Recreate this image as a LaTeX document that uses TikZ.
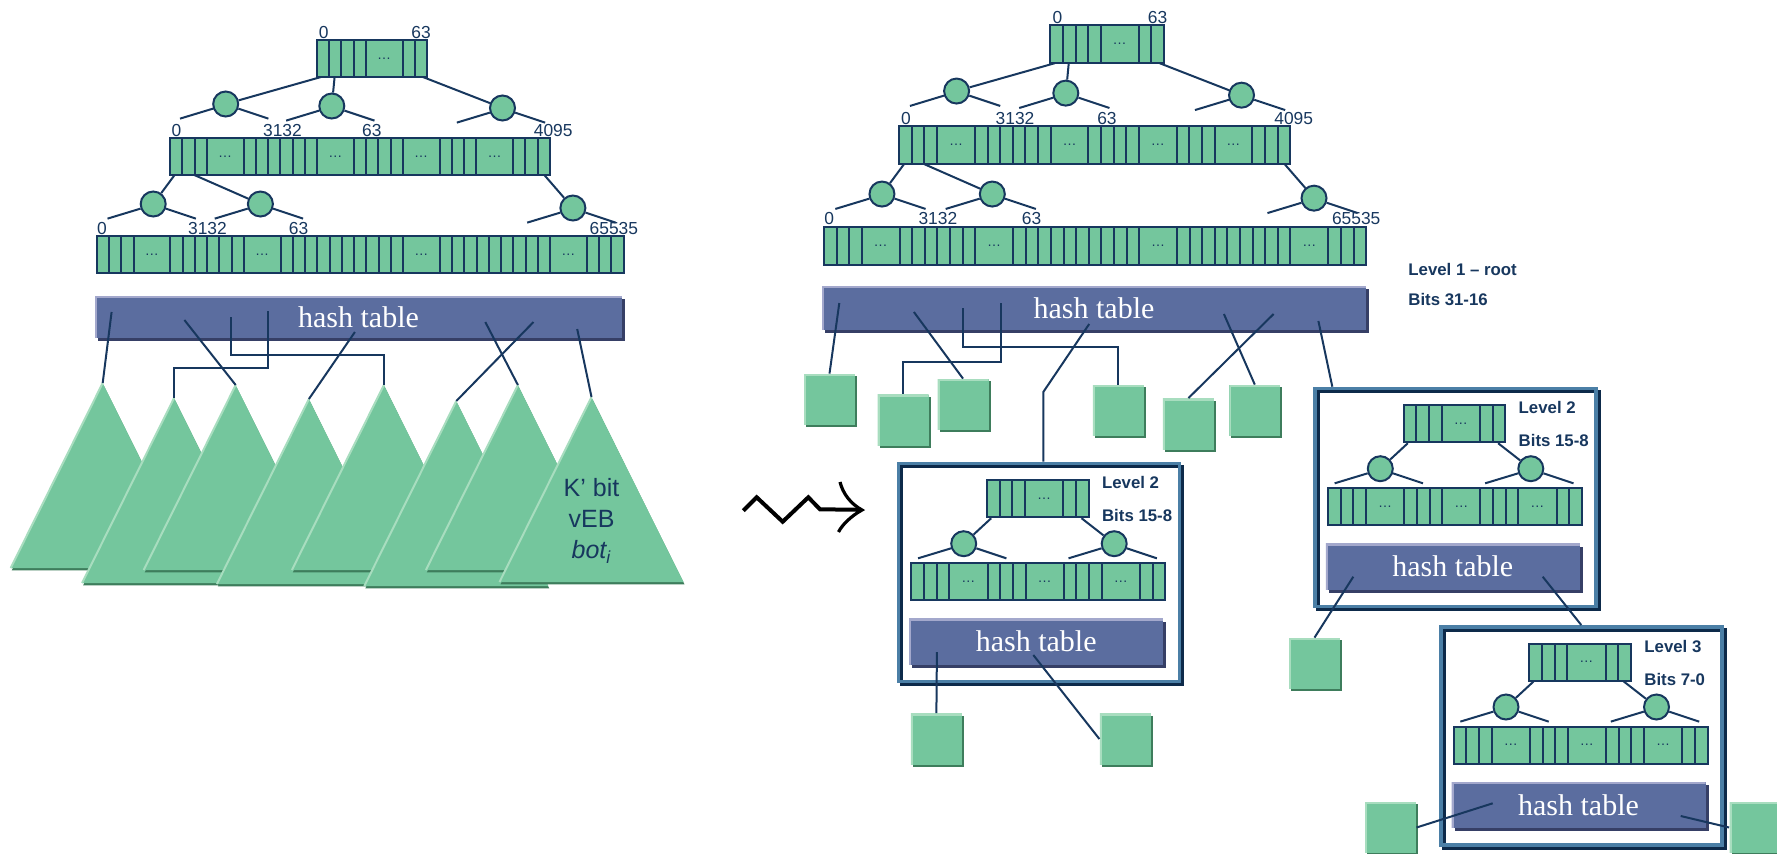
\documentclass[tikz,border=0pt]{standalone}
\usepackage{fontspec}
\setmainfont{Liberation Serif}
\setsansfont{Liberation Sans}
\usetikzlibrary{shadows}
\definecolor{cellgreen}{HTML}{74C69D}
\definecolor{litegreen}{HTML}{A8DDBF}
\definecolor{darkgreen}{HTML}{3E7D5C}
\definecolor{ink}{HTML}{17375E}
\definecolor{hashblue}{HTML}{5B6D9F}
\definecolor{hashlite}{HTML}{A3A8CC}
\definecolor{hashdark}{HTML}{363F66}
\definecolor{framelite}{HTML}{4B7FA6}
\definecolor{framedark}{HTML}{0D2A4A}
\tikzset{
  cell/.style={draw=ink, fill=cellgreen, line width=1pt},
  dots/.style={font=\sffamily\fontsize{7}{7}\selectfont, text=ink, inner sep=0pt},
  num/.style={font=\sffamily\fontsize{8.7}{9}\selectfont, text=ink, inner sep=0pt, anchor=base},
  knot/.style={circle, draw=ink, fill=cellgreen, line width=1pt, minimum size=12.5pt, inner sep=0pt},
  link/.style={draw=ink, line width=1pt},
  hashbox/.style={fill=hashblue, text=white, font=\fontsize{15}{15}\selectfont, inner sep=0pt,
    drop shadow={shadow xshift=1.5pt, shadow yshift=-1.5pt, fill=hashdark, opacity=1},
    path picture={\draw[hashlite, line width=2pt] (path picture bounding box.south west) |- (path picture bounding box.north east);}},
  leaf/.style={fill=cellgreen, minimum width=25.5pt, minimum height=25.5pt, inner sep=0pt,
    drop shadow={shadow xshift=1pt, shadow yshift=-1pt, fill=darkgreen, opacity=1},
    path picture={\draw[litegreen, line width=2pt] (path picture bounding box.south west) |- (path picture bounding box.north east);}},
  frame/.style={draw=framelite, line width=1.75pt, inner sep=0pt,
    general shadow={draw=framedark, line width=1.75pt, shadow xshift=1.5pt, shadow yshift=-1.5pt}},
  lvl/.style={font=\sffamily\bfseries\fontsize{8.4}{9}\selectfont, text=ink, inner sep=0pt, anchor=base west},
  tri/.style={fill=cellgreen, drop shadow={shadow xshift=0.5pt, shadow yshift=-1.2pt, fill=darkgreen, opacity=1}},
  triedge/.style={draw=litegreen, line width=1pt},
  squiggle/.style={draw=black, line width=2pt},
}
\newcommand{\cellarray}[5]{%
  \xdef\cx{#2}%
  \foreach \w [count=\i] in {#5}{%
    \pgfmathsetmacro\nx{\cx+\w*#4}%
    \draw[cell] (\cx,#3) rectangle (\nx,#3+37);
    \ifnum\w>1 \node[dots] (#1-d\i) at ({(\cx+\nx)/2},#3+18.5) {\dots};\fi
    \xdef\cx{\nx}%
  }}
\newcommand{\bigtree}[1]{%
  \cellarray{#1-top}{220}{-196}{12.25}{1,1,1,1,3,1,1}
  \cellarray{#1-mid}{73.2}{-98}{12.25}{1,1,1,3,1,1,1,1,1,1,3,1,1,1,1,3,1,1,1,3,1,1,1}
  \cellarray{#1-bot}{0}{0}{12.25}{1,1,1,3,1,1,1,1,1,1,3,1,1,1,1,1,1,1,1,1,1,3,1,1,1,1,1,1,1,1,1,3,1,1,1}
  \foreach \k/\x/\y in {1/128.9/-132, 2/235/-130, 3/405.7/-128, 4/56.4/-32, 5/163.6/-32, 6/476.1/-28}
    \node[knot] (#1-c\k) at (\x,\y) {};
  \foreach \k/\x/\y in {1/224.2/-159, 2/237.8/-159, 3/326.1/-159, 4/77.8/-61, 5/97.5/-61, 6/447.5/-61}
    {\coordinate (#1-p\k) at (\x,\y); \draw[link] (#1-p\k) -- (#1-c\k);}
  \foreach \k in {1,...,6}
    {\draw[link] (#1-c\k.200) -- ++(-33,10); \draw[link] (#1-c\k.-20) -- ++(30,10);}
  \foreach \k/\x/\y/\lab in {1/226.8/-198/0, 2/324.2/-198/63, 3/79.6/-100/0, 4/185.7/-100/3132,
      5/275/-100/63, 6/456.4/-100/4095, 7/5.2/-2/0, 8/110.7/-2/3132, 9/201.8/-2/63, 10/517.1/-2/65535}
    \node[num] (#1-n\k) at (\x,\y) {\lab};
}
\newcommand{\levelbox}[5]{%
  \node[frame, minimum width=140.5pt, minimum height=109pt, anchor=north west] (#1) at (#2,#3) {};
  \begin{scope}[shift={(#2,#3)}]
    \cellarray{#1-top}{90.3}{18.5}{12.7}{1,1,1,3,1,1}
    \cellarray{#1-bot}{14.6}{101.5}{12.7}{1,1,1,3,1,1,1,3,1,1,1,3,1,1}
    \node[knot] (#1-c1) at (67,82) {};
    \node[knot] (#1-c2) at (217.5,82) {};
    \coordinate (#1-p1) at (94.5,56.5);
    \coordinate (#1-p2) at (184.8,56.5);
    \draw[link] (#1-p1) -- (#1-c1);
    \draw[link] (#1-p2) -- (#1-c2);
    \foreach \k in {1,2}
      {\draw[link] (#1-c\k.200) -- ++(-33,10); \draw[link] (#1-c\k.-20) -- ++(30,10);}
    \node[hashbox, minimum width=127pt, minimum height=23pt] (#1-hash) at (139.5,180) {hash table};
    \node[lvl] (#1-lvl) at (205,27) {#4};
    \node[lvl] (#1-bits) at (205,60) {#5};
  \end{scope}}
\newcommand{\bottree}[1]{%
  \fill[tri] (#1) -- ++(-92,185) -- ++(184,0) -- cycle;
  \draw[triedge] (#1) -- ++(-92,185);}

\begin{document}
\begin{tikzpicture}[x=0.5pt, y=-0.5pt]
\useasboundingbox (0,0) rectangle (1777,853);
\clip (0,0) rectangle (1777,853);

% before: one vEB top, hashed bottoms
\begin{scope}[shift={(96.8,236)}]
  \bigtree{L}
\end{scope}
\node[hashbox, minimum width=263.5pt, minimum height=21pt] (hashL) at (358.5,317) {hash table};
\foreach \n/\x/\y in {1/102.7/383, 2/174.1/398, 3/235.7/385, 4/308.9/399, 5/383.9/385, 6/456.3/401, 7/517.9/385, 8/591.5/397}
  \coordinate (t\n) at (\x,\y);
\foreach \n in {1,...,8}
  \bottree{t\n}
\node[font=\sffamily\fontsize{12.5}{15.5}\selectfont, text=ink, align=center, inner sep=0pt] (vebL) at (591.5,521)
  {K’ bit\\vEB\\\textit{bot\textsubscript{i}}};
\foreach \n/\x/\y in {1/111.6/312, 2/184.4/320, 3/231.3/317, 4/267.9/311, 5/354.9/332, 6/533.5/322, 7/485.3/322, 8/577.2/329}
  \coordinate (hL\n) at (\x,\y);
\draw[link] (hL1) -- (t1);
\draw[link] (hL2) -- (t3);
\draw[link] (hL3) -- ++(0,38) -| (t5);
\draw[link] (hL4) -- ++(0,57) -| (t2);
\draw[link] (hL5) -- (t4);
\draw[link] (hL6) -- (t6);
\draw[link] (hL7) -- (t7);
\draw[link] (hL8) -- (t8);

\draw[squiggle] (743.3,510.7) -- (756.7,497.3) -- (782.7,521.7) -- (808.3,497.3) -- (820,509.3) -- (861,509.8);
\draw[squiggle, line width=1.6pt] (840,482) .. controls (843,494) and (851,504) .. (862,510)
  .. controls (851,516) and (842,525) .. (838.5,532);

% after: three levels
\begin{scope}[shift={(823.9,227)}, xscale=1.0294, yscale=1.03]
  \bigtree{R}
\end{scope}
\node[hashbox, minimum width=272pt, minimum height=22pt] (hashR) at (1094,308) {hash table};
\node[lvl] (lvlR) at (1408,275) {Level 1 – root};
\node[lvl] (bitsR) at (1408,305) {Bits 31-16};

\node[leaf] (s1) at (829.5,399.5) {};
\node[leaf] (s2) at (903,420) {};
\node[leaf] (s3) at (963,404.5) {};
\node[leaf] (s4) at (1118.3,410.5) {};
\node[leaf] (s5) at (1188.4,424) {};
\node[leaf] (s6) at (1254.8,410.5) {};
\node[leaf] (s7) at (1314.5,663.5) {};
\node[leaf] (s8) at (936.4,739) {};
\node[leaf] (s9) at (1125.3,739) {};
\node[leaf] (s10) at (1390.6,827.5) {};
\node[leaf] (s11) at (1755,827.5) {};

\levelbox{boxA}{896.7}{461.7}{Level 2}{Bits 15-8}
\levelbox{boxB}{1313.3}{386.7}{Level 2}{Bits 15-8}
\levelbox{boxC}{1439}{625}{Level 3}{Bits 7-0}

\foreach \n/\x/\y in {1/839.3/303, 2/913.9/312, 3/962.5/308, 4/1000.8/303, 5/1089.2/324, 6/1273.6/314, 7/1223.9/314, 8/1318.4/321}
  \coordinate (hR\n) at (\x,\y);
\coordinate (bendA) at (1043.3,392);
\draw[link] (hR1) -- (s1.north);
\draw[link] (hR2) -- (s3.north);
\draw[link] (hR3) -- ++(0,39) -| (s4.north);
\draw[link] (hR4) -- ++(0,59) -| (s2.north);
\draw[link] (hR5) -- (bendA) -- (bendA |- boxA.north);
\draw[link] (hR6) -- (s5.north);
\draw[link] (hR7) -- (s6.north);
\draw[link] (hR8) -- ([xshift=9.5pt]boxB.north west);

\coordinate (pA1) at (936.9,652);
\coordinate (pA2) at (1033.3,655);
\coordinate (pB1) at (1353.3,576.7);
\coordinate (pB2) at (1542.7,576.7);
\coordinate (pC1) at (1492.7,803.3);
\coordinate (pC2) at (1680.7,816);
\draw[link] (pA1) -- (s8.north);
\draw[link] (pA2) -- (s9.west);
\draw[link] (pB1) -- (s7.north);
\draw[link] (pB2) -- (boxC.north);
\draw[link] (pC1) -- (s10.east);
\draw[link] (pC2) -- (s11.west);
\end{tikzpicture}
\end{document}
